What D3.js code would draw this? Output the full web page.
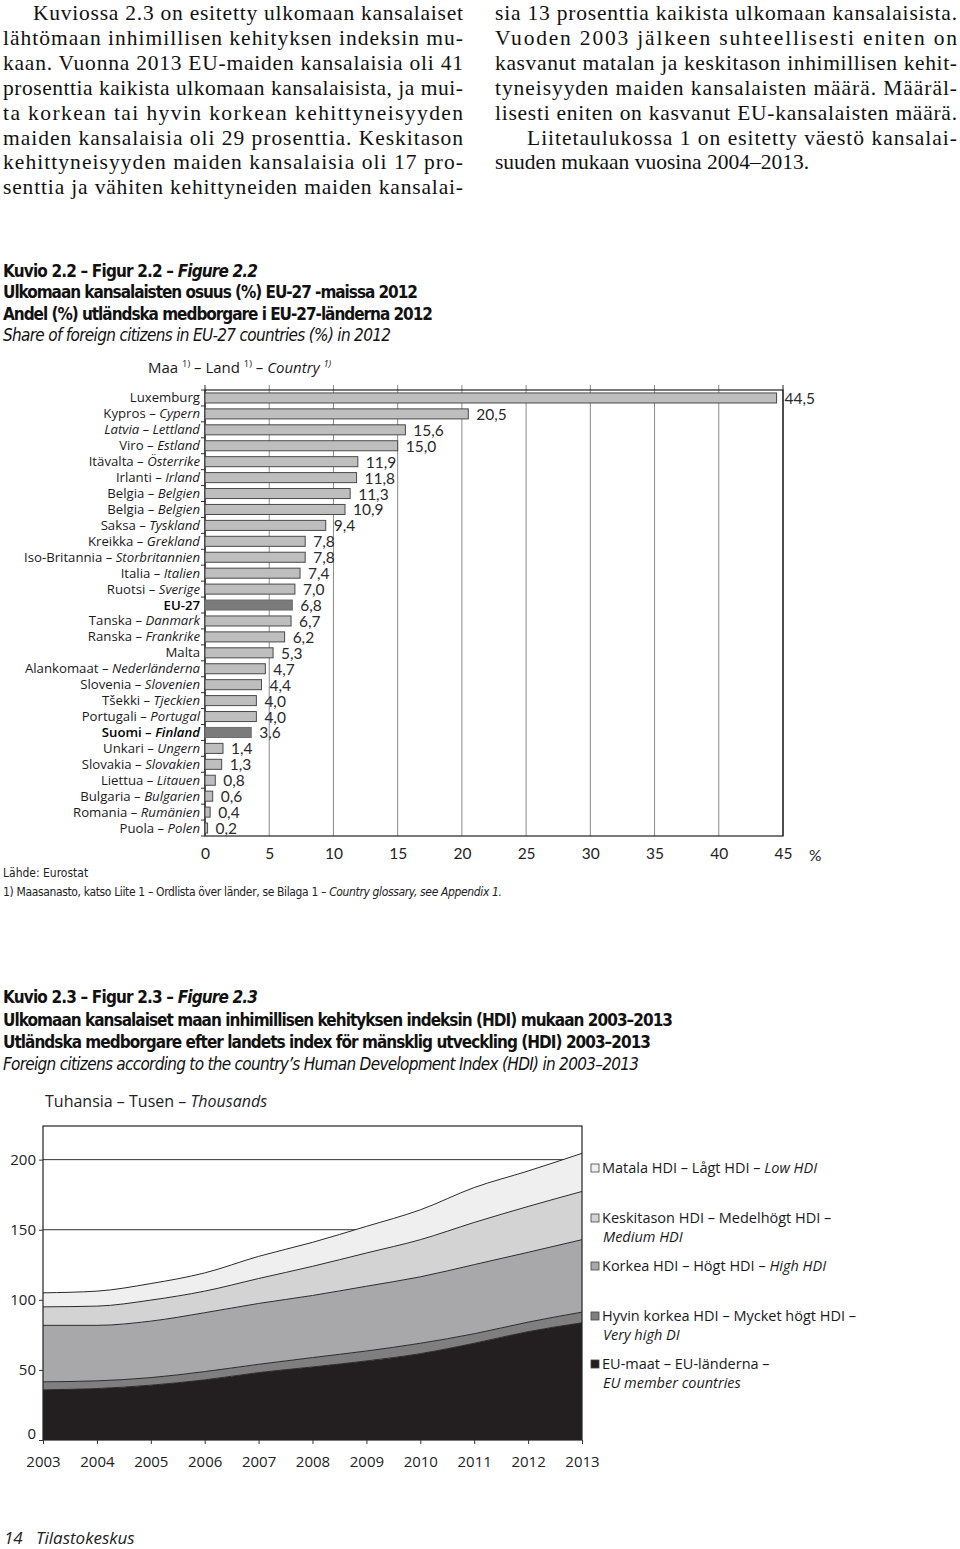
<!DOCTYPE html>
<html><head><meta charset="utf-8">
<script src="https://cdn.jsdelivr.net/npm/d3@7"></script>
<style>
body{margin:0;background:#fff;}
svg{display:block;}
</style></head><body>
<script>
// ---------- DATA ----------
const bodyLeft = [
  "Kuviossa 2.3 on esitetty ulkomaan kansalaiset",
  "lähtömaan inhimillisen kehityksen indeksin mu-",
  "kaan. Vuonna 2013 EU-maiden kansalaisia oli 41",
  "prosenttia kaikista ulkomaan kansalaisista, ja mui-",
  "ta korkean tai hyvin korkean kehittyneisyyden",
  "maiden kansalaisia oli 29 prosenttia. Keskitason",
  "kehittyneisyyden maiden kansalaisia oli 17 pro-",
  "senttia ja vähiten kehittyneiden maiden kansalai-"
];
const bodyRight = [
  "sia 13 prosenttia kaikista ulkomaan kansalaisista.",
  "Vuoden 2003 jälkeen suhteellisesti eniten on",
  "kasvanut matalan ja keskitason inhimillisen kehit-",
  "tyneisyyden maiden kansalaisten määrä. Määräl-",
  "lisesti eniten on kasvanut EU-kansalaisten määrä.",
  "Liitetaulukossa 1 on esitetty väestö kansalai-",
  "suuden mukaan vuosina 2004–2013."
];

const countries = ["Luxemburg","Kypros – Cypern","Latvia – Lettland","Viro – Estland","Itävalta – Österrike",
  "Irlanti – Irland","Belgia – Belgien","Belgia – Belgien","Saksa – Tyskland","Kreikka – Grekland",
  "Iso-Britannia – Storbritannien","Italia – Italien","Ruotsi – Sverige","EU-27","Tanska – Danmark",
  "Ranska – Frankrike","Malta","Alankomaat – Nederländerna","Slovenia – Slovenien","Tšekki – Tjeckien",
  "Portugali – Portugal","Suomi – Finland","Unkari – Ungern","Slovakia – Slovakien","Liettua – Litauen",
  "Bulgaria – Bulgarien","Romania – Rumänien","Puola – Polen"];
const shares = [44.5,20.5,15.6,15.0,11.9,11.8,11.3,10.9,9.4,7.8,7.8,7.4,7.0,6.8,6.7,6.2,5.3,4.7,4.4,4.0,4.0,3.6,1.4,1.3,0.8,0.6,0.4,0.2];
const highlighted = ["EU-27","Suomi – Finland"];
const allItalic = ["Latvia – Lettland"];
const shareTicks = [0,5,10,15,20,25,30,35,40,45];

const years = [2003,2004,2005,2006,2007,2008,2009,2010,2011,2012,2013];
const euCountries = [35.8,36.7,39.1,42.9,48.1,52.1,56.4,61.6,69.0,77.3,83.6];
const veryHighHDI = [5.7,5.5,5.4,5.9,5.9,6.7,7.1,7.4,6.8,6.8,7.6];
const highHDI     = [40.3,39.6,40.3,42.0,43.4,44.3,46.2,47.4,49.3,49.8,51.7];
const mediumHDI   = [13.2,13.7,15.0,15.4,17.8,20.8,23.7,26.5,30.1,32.7,34.4];
const lowHDI      = [10.0,10.7,11.8,13.0,15.8,17.1,19.0,21.3,24.9,25.3,27.2];
const thousandTicks = [0,50,100,150,200];
const seriesKeys = ["eu","veryHigh","high","medium","low"];
const seriesColors = ["#231f20","#7f7f7f","#a8a8aa","#d3d3d4","#efefef"];

// ---------- SVG ----------
const W = 960, H = 1549;
const svg = d3.select("body").append("svg").attr("width", W).attr("height", H);
const SANS = "Lato, 'Open Sans', sans-serif";
const FRUT = "'Open Sans', Lato, sans-serif";
const NARROW = "'Liberation Sans Narrow', 'DejaVu Sans Condensed', sans-serif";
const SERIF = "'Liberation Serif', 'DejaVu Serif', serif";

// ---------- Body text ----------
function bodyCol(lines, x0, x1, indentIdx, indentX, lastRagged) {
  lines.forEach((t, i) => {
    const xs = (i === indentIdx) ? indentX : x0;
    const el = svg.append("text").attr("x", xs).attr("y", 20 + i * 24.9)
      .attr("font-family", SERIF).attr("font-size", 21.5).attr("fill", "#111").text(t);
    if (!(lastRagged && i === lines.length - 1)) {
      el.attr("textLength", x1 - xs).attr("lengthAdjust", "spacing");
    }
  });
}
bodyCol(bodyLeft, 3, 463, 0, 33, false);
bodyCol(bodyRight, 495, 957, 5, 527, true);

// ---------- helpers ----------
function richText(parent, x, y, parts, opts) {
  const t = parent.append("text").attr("x", x).attr("y", y)
    .attr("font-family", opts.family).attr("font-size", opts.size).attr("fill", opts.fill || "#111");
  if (opts.weight) t.attr("font-weight", opts.weight);
  if (opts.anchor) t.attr("text-anchor", opts.anchor);
  if (opts.len) t.attr("textLength", opts.len).attr("lengthAdjust", "spacing");
  parts.forEach(p => {
    const s = t.append("tspan").text(p.t);
    if (p.i) s.attr("font-style", "italic");
    if (p.sup) s.attr("font-size", opts.size * 0.62).attr("baseline-shift", "super");
    if (p.w) s.attr("font-weight", p.w);
  });
  return t;
}
function plain(x, y, txt, opts) {
  const t = svg.append("text").attr("x", x).attr("y", y).attr("font-family", opts.family)
    .attr("font-size", opts.size).attr("fill", opts.fill || "#111").text(txt);
  if (opts.weight) t.attr("font-weight", opts.weight);
  if (opts.italic) t.attr("font-style", "italic");
  if (opts.len) t.attr("textLength", opts.len).attr("lengthAdjust", "spacing");
  return t;
}

// ---------- Figure 2.2 titles ----------
richText(svg, 3, 277, [{t:"Kuvio 2.2 – Figur 2.2 – "},{t:"Figure 2.2",i:true}], {family:NARROW,size:17,weight:"bold",len:255});
plain(3, 298, "Ulkomaan kansalaisten osuus (%) EU-27 -maissa 2012", {family:NARROW,size:17,weight:"bold",len:415});
plain(3, 320, "Andel (%) utländska medborgare i EU-27-länderna 2012", {family:NARROW,size:17,weight:"bold",len:430});
plain(3, 341, "Share of foreign citizens in EU-27 countries (%) in 2012", {family:NARROW,size:17,italic:true,len:388});
richText(svg, 148, 373, [{t:"Maa "},{t:"1)",sup:true},{t:" – Land "},{t:"1)",sup:true},{t:" – "},{t:"Country ",i:true},{t:"1)",sup:true,i:true}],
  {family:FRUT,size:15,fill:"#1a1a1a"});

// ---------- Bar chart ----------
const xB = d3.scaleLinear().domain([0,45]).range([205,783]);
const yB = d3.scaleBand().domain(d3.range(countries.length)).range([390,836]).paddingInner(0.37).paddingOuter(0.185);
const gB = svg.append("g");

gB.selectAll("line.grid").data(shareTicks).join("line")
  .attr("x1", d => xB(d)).attr("x2", d => xB(d)).attr("y1", 385).attr("y2", 836)
  .attr("stroke", d => (d === 0 || d === 45) ? "#222" : "#8a8a8a").attr("stroke-width", 1);
gB.append("rect").attr("x", xB(0)).attr("y", 390).attr("width", xB(45) - xB(0)).attr("height", 446)
  .attr("fill", "none").attr("stroke", "#222").attr("stroke-width", 1.2);
gB.selectAll("line.lt").data(d3.range(countries.length + 1)).join("line")
  .attr("x1", xB(0) - 4).attr("x2", xB(0))
  .attr("y1", i => 390 + i * yB.step()).attr("y2", i => 390 + i * yB.step())
  .attr("stroke", "#333");
gB.selectAll("rect.bar").data(shares).join("rect")
  .attr("x", xB(0)).attr("y", (d, i) => yB(i))
  .attr("width", d => xB(d) - xB(0)).attr("height", yB.bandwidth())
  .attr("fill", (d, i) => highlighted.includes(countries[i]) ? "#7b7b7b" : "#bebebe")
  .attr("stroke", (d, i) => highlighted.includes(countries[i]) ? "#6e6e6e" : "#4a4a4a").attr("stroke-width", 1);
const fmt = v => d3.format(".1f")(v).replace(".", ",");
gB.selectAll("text.val").data(shares).join("text")
  .attr("x", d => xB(d) + 8).attr("y", (d, i) => yB(i) + yB.bandwidth() / 2 + 6)
  .attr("font-family", SANS).attr("font-size", 15.5).attr("fill", "#2a2a2a")
  .text(d => fmt(d));
countries.forEach((c, i) => {
  const parts = c.split(" – ");
  const hl = highlighted.includes(c);
  const it = allItalic.includes(c);
  const t = gB.append("text").attr("x", 200).attr("y", yB(i) + yB.bandwidth() / 2 + 4.5)
    .attr("text-anchor", "end").attr("font-family", FRUT).attr("font-size", 13.2)
    .attr("fill", hl ? "#000" : "#1a1a1a");
  if (hl) t.attr("font-weight", 600);
  t.append("tspan").text(parts[0]).attr("font-style", it ? "italic" : null);
  if (parts.length > 1) {
    t.append("tspan").text(" – ").attr("font-style", it ? "italic" : null);
    t.append("tspan").text(parts[1]).attr("font-style", "italic");
  }
});
const axB = d3.axisBottom(xB).tickValues(shareTicks).tickSize(0).tickPadding(0).tickFormat(d3.format("d"));
const gAx = svg.append("g").attr("transform", "translate(0,848)").call(axB);
gAx.select(".domain").remove();
gAx.selectAll("text").attr("font-family", SANS).attr("font-size", 15.5).attr("fill", "#222");
plain(809, 861, "%", {family:SANS,size:15.5,fill:"#222"});

plain(3, 877, "Lähde: Eurostat", {family:NARROW,size:12,fill:"#222"});
richText(svg, 3, 896, [{t:"1) Maasanasto, katso Liite 1 – Ordlista över länder, se Bilaga 1 – "},{t:"Country glossary, see Appendix 1.",i:true}],
  {family:NARROW,size:12,fill:"#222",len:499});

// ---------- Figure 2.3 titles ----------
richText(svg, 3, 1003, [{t:"Kuvio 2.3 – Figur 2.3 – "},{t:"Figure 2.3",i:true}], {family:NARROW,size:17,weight:"bold",len:255});
plain(3, 1026, "Ulkomaan kansalaiset maan inhimillisen kehityksen indeksin (HDI) mukaan 2003–2013", {family:NARROW,size:17,weight:"bold",len:670});
plain(3, 1048, "Utländska medborgare efter landets index för mänsklig utveckling (HDI) 2003–2013", {family:NARROW,size:17,weight:"bold",len:648});
plain(3, 1070, "Foreign citizens according to the country’s Human Development Index (HDI) in 2003–2013", {family:NARROW,size:17,italic:true,len:636});
richText(svg, 45, 1107, [{t:"Tuhansia – Tusen – "},{t:"Thousands",i:true}], {family:FRUT,size:16,fill:"#222"});

// ---------- Area chart ----------
const xA = d3.scaleLinear().domain([2003,2013]).range([43,582]);
const yA = d3.scaleLinear().domain([0,224]).range([1440,1126]);
const rows = years.map((y, i) => ({year:y, eu:euCountries[i], veryHigh:veryHighHDI[i], high:highHDI[i], medium:mediumHDI[i], low:lowHDI[i]}));
const stacked = d3.stack().keys(seriesKeys)(rows);
const gA = svg.append("g");
gA.selectAll("line.g").data(thousandTicks.filter(d => d > 0)).join("line")
  .attr("x1", xA(2003)).attr("x2", xA(2013)).attr("y1", d => yA(d)).attr("y2", d => yA(d))
  .attr("stroke", "#333").attr("stroke-width", 1);
const area = d3.area().curve(d3.curveMonotoneX).x(d => xA(d.data.year)).y0(d => yA(d[0])).y1(d => yA(d[1]));
const line = d3.line().curve(d3.curveMonotoneX).x(d => xA(d.data.year)).y(d => yA(d[1]));
gA.selectAll("path.area").data(stacked).join("path")
  .attr("d", area).attr("fill", (d, i) => seriesColors[i]);
gA.selectAll("path.ln").data(stacked).join("path")
  .attr("d", line).attr("fill", "none").attr("stroke", "#2a2a2a").attr("stroke-width", 1);
gA.append("rect").attr("x", xA(2003)).attr("y", yA(224)).attr("width", xA(2013) - xA(2003)).attr("height", yA(0) - yA(224))
  .attr("fill", "none").attr("stroke", "#222").attr("stroke-width", 1.2);
const axY = d3.axisLeft(yA).tickValues(thousandTicks).tickSize(4).tickPadding(3);
const gY = svg.append("g").attr("transform", `translate(${xA(2003)},0)`).call(axY);
gY.select(".domain").remove();
gY.selectAll("line").attr("stroke", "#333");
gY.selectAll("text").attr("font-family", FRUT).attr("font-size", 15).attr("fill", "#222");
gY.selectAll(".tick").filter(d => d === 0).select("text").attr("dy", "-0.1em");
const axX = d3.axisBottom(xA).tickValues(years).tickSize(4).tickPadding(12).tickFormat(d3.format("d"));
const gX = svg.append("g").attr("transform", `translate(0,${yA(0)})`).call(axX);
gX.select(".domain").remove();
gX.selectAll("line").attr("stroke", "#333");
gX.selectAll("text").attr("font-family", FRUT).attr("font-size", 15).attr("fill", "#222");

// legend
const legend = [
  {i:4, y:1168, l1:[{t:"Matala HDI – Lågt HDI – "},{t:"Low HDI",i:true}]},
  {i:3, y:1218, l1:[{t:"Keskitason HDI – Medelhögt HDI –"}], l2:[{t:"Medium HDI",i:true}]},
  {i:2, y:1266, l1:[{t:"Korkea HDI – Högt HDI – "},{t:"High HDI",i:true}]},
  {i:1, y:1316, l1:[{t:"Hyvin korkea HDI – Mycket högt HDI –"}], l2:[{t:"Very high  DI",i:true}]},
  {i:0, y:1364, l1:[{t:"EU-maat  – EU-länderna –"}], l2:[{t:"EU member countries",i:true}]}
];
legend.forEach(L => {
  svg.append("rect").attr("x", 591).attr("y", L.y - 4).attr("width", 8).attr("height", 8)
    .attr("fill", seriesColors[L.i]).attr("stroke", "#444").attr("stroke-width", 0.8);
  richText(svg, 602, L.y + 5, L.l1, {family:FRUT, size:14.5, fill:"#1a1a1a"});
  if (L.l2) richText(svg, 603, L.y + 23.5, L.l2, {family:FRUT, size:14.5, fill:"#1a1a1a"});
});

// page footer
svg.append("text").attr("x", 4).attr("y", 1544).attr("font-family", FRUT).attr("font-size", 17).attr("font-style", "italic")
  .attr("fill", "#222").attr("xml:space","preserve").text("14   Tilastokeskus");
</script>
</body></html>
